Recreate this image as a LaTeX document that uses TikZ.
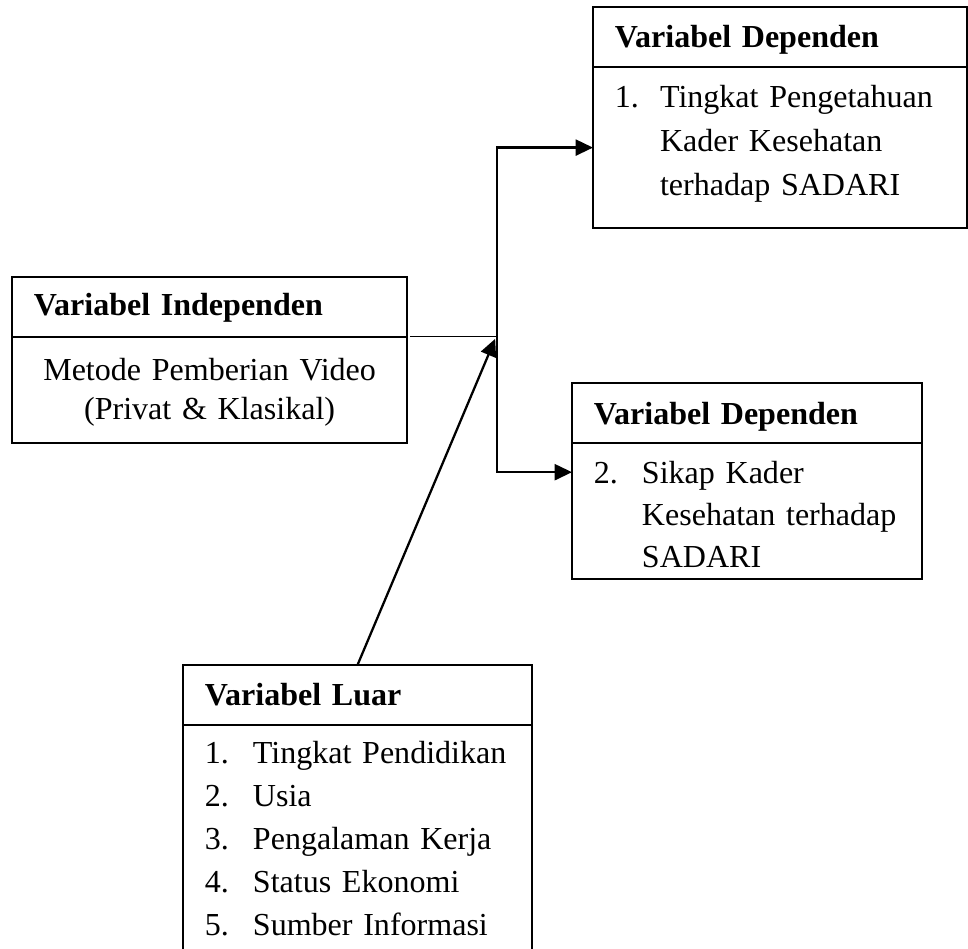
\documentclass[tikz,border=0pt]{standalone}
\usepackage{fontspec}
\setmainfont{Liberation Serif}
\usetikzlibrary{arrows.meta}

\tikzset{
  varhead/.style={draw, line width=0.75pt, outer sep=0pt, anchor=north west, inner ysep=0pt, inner xsep=8.2pt,
    font=\fontsize{12pt}{16.5pt}\selectfont\bfseries},
  varbody/.style={draw, line width=0.75pt, outer sep=0pt, anchor=north west, inner ysep=0pt, inner xsep=8.2pt,
    font=\fontsize{12pt}{16.5pt}\selectfont},
  arr/.style={line width=0.85pt, -{Triangle[length=6.5pt,width=6pt]}}
}

\begin{document}
\begin{tikzpicture}[x=0.3745pt, y=-0.3745pt]
  \useasboundingbox (0,0) rectangle (968,948);

  % independent variable
  \node[varhead, text width=131.6pt, text height=14.6pt, text depth=7.8pt] (indephead) at (12,277) {Variabel Independen};
  \node[varbody, text width=131.6pt, text height=16.2pt, text depth=23.5pt,
    font=\fontsize{12pt}{14.6pt}\selectfont] (indepbody) at (indephead.south west)
    {\centering Metode Pemberian Video\\(Privat \& Klasikal)\par};

  % dependent variables
  \node[varhead, text width=123.6pt, text height=15.2pt, text depth=7.3pt] (dep1head) at (593,7) {Variabel Dependen};
  \node[varbody, text width=123.6pt, text height=15pt, text depth=45.3pt] (dep1body) at (dep1head.south west)
    {\makebox[16.9pt][l]{1.}Tingkat Pengetahuan\\\hspace*{16.9pt}Kader Kesehatan\\\hspace*{16.9pt}terhadap SADARI};

  \node[varhead, text width=114.6pt, text height=15.5pt, text depth=7pt] (dep2head) at (572,383) {Variabel Dependen};
  \node[varbody, text width=114.6pt, text height=15pt, text depth=36pt, font=\fontsize{12pt}{15.8pt}\selectfont]
    (dep2body) at (dep2head.south west)
    {\makebox[18pt][l]{2.}Sikap Kader\\\hspace*{18pt}Kesehatan terhadap\\\hspace*{18pt}SADARI};

  % outside variable
  \node[varhead, text width=114.3pt, text height=15pt, text depth=7.5pt] (luarhead) at (183,665) {Variabel Luar};
  \node[varbody, text width=114.3pt, text height=14.5pt, text depth=77.3pt, font=\fontsize{12pt}{16.1pt}\selectfont]
    (luarbody) at (luarhead.south west)
    {\makebox[18pt][l]{1.}Tingkat Pendidikan\\\makebox[18pt][l]{2.}Usia\\\makebox[18pt][l]{3.}Pengalaman Kerja\\
     \makebox[18pt][l]{4.}Status Ekonomi\\\makebox[18pt][l]{5.}Sumber Informasi};

  % connectors
  \coordinate (split) at ([xshift=33.7pt]indephead.south east);
  \coordinate (in2) at ([yshift=-10.9pt]dep2body.north west);
  \draw[line width=0.5pt] ([xshift=1pt]indephead.south east) -- (split);
  \draw[arr] (split) |- (dep1body.west);
  \draw[arr] (split) |- (in2);
  \draw[arr] (luarhead.north) -- ([shift={(-2,2)}]split);
\end{tikzpicture}
\end{document}
